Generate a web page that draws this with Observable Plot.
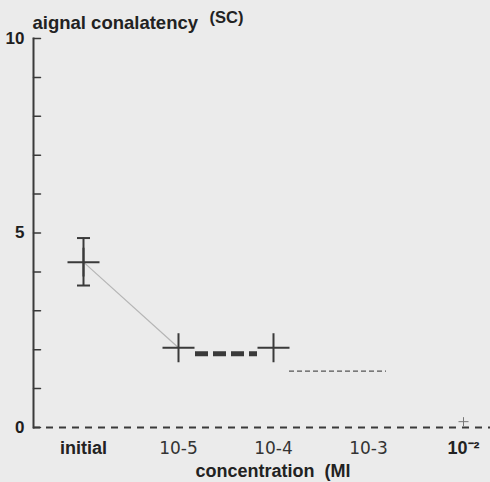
<!DOCTYPE html>
<html><head><meta charset="utf-8">
<script src="https://cdn.jsdelivr.net/npm/d3@7"></script>
<script src="https://cdn.jsdelivr.net/npm/@observablehq/plot@0.6"></script>
<style>
html,body{margin:0;padding:0;background:#ebebeb;}
#chart{width:490px;height:482px;}
svg{background:transparent !important;}
</style></head>
<body><div id="chart"></div>
<script>
// categories and tick labels
const categories = ["initial", "10-5", "10-4", "10-3", "10-2"];
const tickLabels = ["initial", "10-5", "10-4", "10-3", "10⁻²"];
const boldTicks = ["initial", "10-2"];
// measured means (signal conalatency)
const pointCats = ["initial", "10-5", "10-4"];
const pointValues = [4.25, 2.05, 2.05];
// error bar on the initial value
const errCat = ["initial"];
const errLow = [3.65];
const errHigh = [4.87];
// trailing values
const trailCats = ["10-4", "10-3"];
const trailValues = [1.45, 1.45];
const endCat = ["10-2"];
const endValue = [0.15];
const yMajor = [0, 5, 10];
const yMinor = d3.range(0, 11);

const points = pointCats.map((c, i) => ({c, v: pointValues[i]}));
const errs = errCat.map((c, i) => ({c, lo: errLow[i], hi: errHigh[i]}));
const caps = errs.flatMap(d => [{c: d.c, v: d.lo}, {c: d.c, v: d.hi}]);

const cross = {draw(ctx, size){ const r = Math.sqrt(size/Math.PI); ctx.moveTo(-r,0); ctx.lineTo(r,0); ctx.moveTo(0,-r*0.9); ctx.lineTo(0,r*0.9);} };
const cap = {draw(ctx, size){ const r = Math.sqrt(size/Math.PI); ctx.moveTo(-r,0); ctx.lineTo(r,0);} };
const spike = {draw(ctx, l){ ctx.moveTo(0,0); ctx.lineTo(0,-l);} };

const ink = "#3a3a3a";
const chart = Plot.plot({
  width: 490, height: 482,
  marginTop: 38, marginBottom: 55, marginLeft: 33, marginRight: 0,
  style: {background: "transparent", fontFamily: "Liberation Sans, Arial, sans-serif", color: "#222"},
  x: {type: "point", domain: categories, range: [81, 464], padding: 0, axis: null},
  y: {domain: [0, 10], axis: null},
  marks: [
    Plot.frame({anchor: "left", stroke: ink, strokeWidth: 2}),
    Plot.vector(yMinor, {y: d => d, frameAnchor: "left", length: 7, rotate: 90, anchor: "start", shape: spike, stroke: ink, strokeWidth: 1.5}),
    Plot.text(yMajor, {y: d => d, frameAnchor: "left", dx: -9, textAnchor: "end", fontWeight: "bold", fontSize: 17, fill: "#1e1e1e"}),
    Plot.ruleY([0], {stroke: ink, strokeWidth: 2, strokeDasharray: "7,6"}),
    // connecting segments
    Plot.link([0], {x1: () => pointCats[0], y1: () => pointValues[0], x2: () => pointCats[1], y2: () => pointValues[1], stroke: "#a8a8a8", strokeWidth: 1.2, strokeOpacity: 0.8}),
    Plot.ruleY([0], {x1: () => pointCats[1], x2: () => pointCats[2], y: () => pointValues[1], dy: 6, insetLeft: 17, insetRight: 16, stroke: ink, strokeWidth: 5, strokeDasharray: "13,5"}),
    Plot.ruleY([0], {x1: () => trailCats[0], x2: () => trailCats[1], y: () => trailValues[0], insetLeft: 16, insetRight: -18, stroke: "#555", strokeWidth: 1.2, strokeDasharray: "5,3"}),
    // error bar
    Plot.ruleX(errs, {x: "c", y1: "lo", y2: "hi", stroke: ink, strokeWidth: 2}),
    Plot.dot(caps, {x: "c", y: "v", symbol: cap, r: 6.5, fill: "none", stroke: ink, strokeWidth: 2}),
    // crosses
    Plot.dot(points, {x: "c", y: "v", symbol: cross, r: 16, fill: "none", stroke: ink, strokeWidth: 2}),
    Plot.dot(endCat.map((c, i) => ({c, v: endValue[i]})), {x: "c", y: "v", symbol: cross, r: 5, fill: "none", stroke: "#777", strokeWidth: 1}),
    // tick labels
    Plot.text(categories.filter(c => !boldTicks.includes(c)), {x: d => d, text: d => tickLabels[categories.indexOf(d)], frameAnchor: "bottom", dy: 26, lineAnchor: "bottom", fontSize: 17, fontFamily: "DejaVu Sans", fill: "#333"}),
    Plot.text(categories.filter(c => boldTicks.includes(c)), {x: d => d, text: d => tickLabels[categories.indexOf(d)], frameAnchor: "bottom", dy: 26, lineAnchor: "bottom", fontSize: 18, fontWeight: "bold", fill: "#222"}),
    // titles
    Plot.text(["aignal conalatency"], {frameAnchor: "top-left", dx: -1, dy: -10, lineAnchor: "bottom", textAnchor: "start", fontSize: 18.5, fontWeight: "bold", fill: "#222"}),
    Plot.text(["(SC)"], {frameAnchor: "top-left", dx: 176, dy: -16, lineAnchor: "bottom", textAnchor: "start", fontSize: 16.5, fontWeight: "bold", fill: "#222"}),
    Plot.text(["concentration  (Ml"], {frameAnchor: "bottom", dx: 11, dy: 49, lineAnchor: "bottom", fontSize: 18, fontWeight: "bold", fill: "#222"})
  ]
});
document.getElementById("chart").appendChild(chart);
</script></body></html>
